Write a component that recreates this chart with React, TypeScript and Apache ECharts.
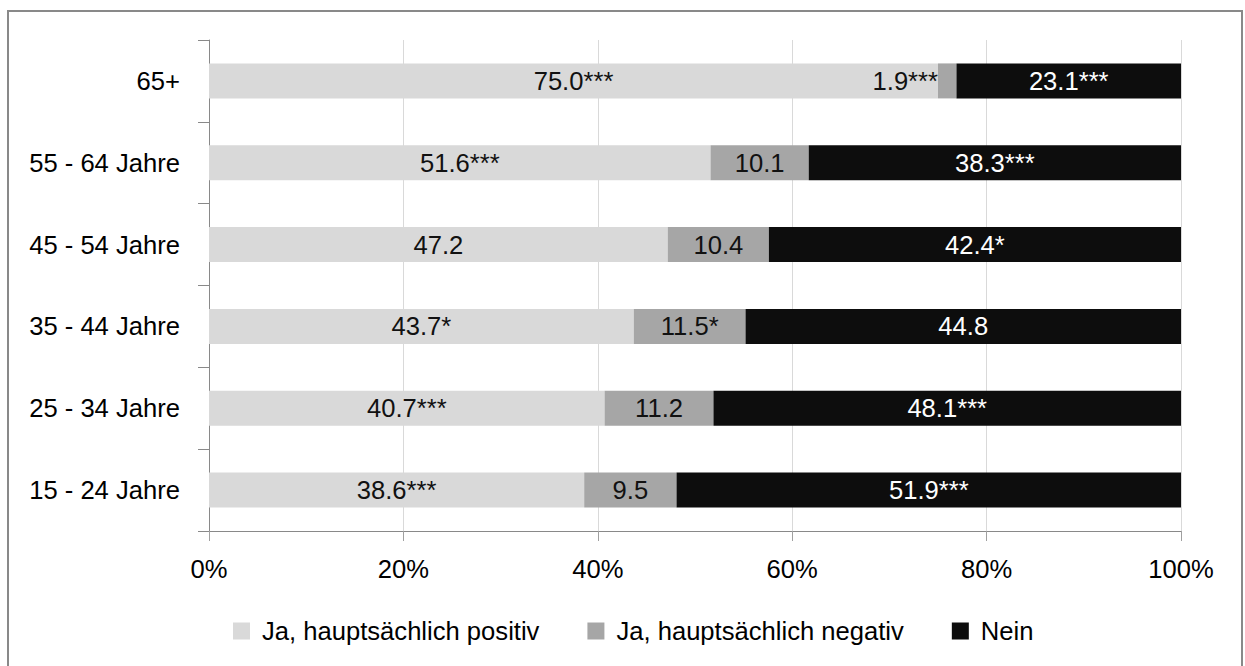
import React, { useEffect, useRef } from "react";
import * as echarts from "echarts";

const categories = ["15 - 24 Jahre", "25 - 34 Jahre", "35 - 44 Jahre", "45 - 54 Jahre", "55 - 64 Jahre", "65+"];
const seriesNames = ["Ja, hauptsächlich positiv", "Ja, hauptsächlich negativ", "Nein"];
const positive = [38.6, 40.7, 43.7, 47.2, 51.6, 75.0];
const positiveSig = ["***", "***", "*", "", "***", "***"];
const negative = [9.5, 11.2, 11.5, 10.4, 10.1, 1.9];
const negativeSig = ["", "", "*", "", "", "***"];
const nein = [51.9, 48.1, 44.8, 42.4, 38.3, 23.1];
const neinSig = ["***", "***", "", "*", "***", "***"];
const xTicks = [0, 20, 40, 60, 80, 100];

const FONT = "'Liberation Sans', Arial, sans-serif";
const FS = 25.6;

export default function App() {
  const ref = useRef<HTMLDivElement>(null);
  useEffect(() => {
    if (!ref.current) return;
    const chart = echarts.init(ref.current, undefined, { renderer: "svg" });
    const mkLabel = (sig: string[], color: string) => ({
      show: true,
      position: "inside",
      color,
      fontFamily: FONT,
      fontSize: FS,
      formatter: (p: any) => Number(p.value).toFixed(1) + sig[p.dataIndex],
    });
    const option: any = {
      animation: false,
      backgroundColor: "#ffffff",
      textStyle: { fontFamily: FONT },
      graphic: [
        {
          type: "rect",
          shape: { x: 8, y: 11, width: 1234, height: 670 },
          style: { fill: "none", stroke: "#898989", lineWidth: 2 },
          silent: true,
          z: -1,
        },
      ],
      grid: { left: 209, right: 64, top: 40, bottom: 135, containLabel: false },
      legend: {
        left: 228,
        top: 613,
        icon: "rect",
        itemWidth: 17,
        itemHeight: 17,
        itemGap: 48,
        textStyle: { fontFamily: FONT, fontSize: FS, color: "#000", padding: [0, 0, 0, 7] },
        data: seriesNames,
      },
      xAxis: {
        type: "value",
        min: xTicks[0],
        max: xTicks[xTicks.length - 1],
        interval: 20,
        axisLine: { show: true, lineStyle: { color: "#898989", width: 1 } },
        axisTick: { show: true, length: 10, lineStyle: { color: "#a0a0a0" } },
        splitLine: { show: true, lineStyle: { color: "#d9d9d9", width: 1 } },
        axisLabel: { formatter: "{value}%", fontFamily: FONT, fontSize: FS, color: "#000", margin: 25 },
      },
      yAxis: {
        type: "category",
        data: categories,
        axisLine: { show: true, lineStyle: { color: "#898989", width: 1 } },
        axisTick: { show: true, length: 11, lineStyle: { color: "#898989" } },
        splitLine: { show: false },
        axisLabel: { fontFamily: FONT, fontSize: FS, color: "#000", margin: 29 },
      },
      series: [
        {
          name: seriesNames[0],
          type: "bar",
          stack: "total",
          barWidth: 35,
          itemStyle: { color: "#d9d9d9" },
          label: mkLabel(positiveSig, "#111"),
          data: positive,
        },
        {
          name: seriesNames[1],
          type: "bar",
          stack: "total",
          barWidth: 35,
          itemStyle: { color: "#a6a6a6" },
          label: mkLabel(negativeSig, "#111"),
          data: negative.map((v) =>
            v < 5 ? { value: v, label: { position: "left", distance: 0 } } : v
          ),
        },
        {
          name: seriesNames[2],
          type: "bar",
          stack: "total",
          barWidth: 35,
          itemStyle: { color: "#0d0d0d" },
          label: mkLabel(neinSig, "#ffffff"),
          data: nein,
        },
      ],
    };
    chart.setOption(option);
    return () => chart.dispose();
  }, []);
  return (
    <div
      ref={ref}
      style={{ position: "absolute", left: 0, top: 0, width: 1245, height: 666, background: "#fff" }}
    />
  );
}
